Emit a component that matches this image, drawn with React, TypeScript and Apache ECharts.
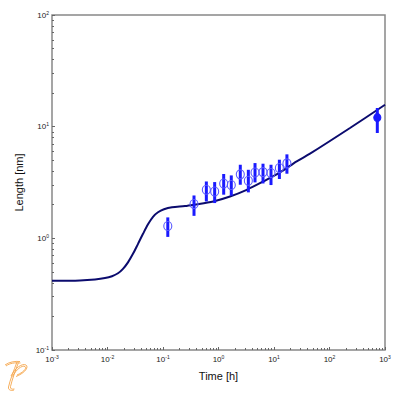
import React, { useEffect, useRef } from "react";
import * as echarts from "echarts";

// Model curve (Time [h], Length [nm])
const curveTime = [0.001, 0.00319, 0.005957, 0.009016, 0.01205, 0.01545, 0.01901, 0.02339, 0.02877, 0.03548, 0.04365, 0.0537, 0.06607, 0.08128, 0.1042, 0.1453, 0.2489, 0.3622, 0.8054, 1.611, 3.221, 6.412, 12.82, 25.65, 44.57, 233.9, 1000];
const curveLength = [0.416, 0.42, 0.4285, 0.4406, 0.458, 0.4865, 0.5328, 0.6092, 0.7262, 0.8929, 1.0975, 1.3354, 1.559, 1.711, 1.82, 1.897, 1.945, 2.0, 2.14, 2.37, 2.72, 3.23, 3.89, 4.89, 5.73, 9.73, 15.7];

// Experimental points with error bars
const expTime = [0.122, 0.362, 0.604, 0.853, 1.24, 1.7, 2.47, 3.45, 4.55, 6.34, 8.83, 12.5, 17.1, 727];
const expLength = [1.29, 2.03, 2.72, 2.63, 3.1, 3.0, 3.74, 3.28, 3.89, 3.92, 3.85, 4.26, 4.69, 12.05];
const expLow = [1.03, 1.59, 2.14, 2.07, 2.46, 2.41, 3.02, 2.58, 3.17, 3.1, 3.0, 3.4, 3.79, 8.78];
const expHigh = [1.54, 2.42, 3.23, 3.19, 3.77, 3.66, 4.56, 4.11, 4.72, 4.66, 4.56, 5.06, 5.65, 14.7];
const expFilled = [0, 0, 0, 0, 0, 0, 0, 0, 0, 0, 0, 0, 0, 1];

const xDecades = [-3, -2, -1, 0, 1, 2];
const yDecades = [-1, 0, 1];
const minorMultipliers = [2, 3, 4, 5, 6, 7, 8, 9];

const LOGO_D =
  "M5 13 C9 10 15 9 20 9.5 M6 14 C10 11 15 10.5 20.5 11 M17 10 C14 18 10 28 8.5 35 C8 38 11 39 14 38 M18.5 10.5 C15.5 18 12 28 10.5 34.5 C10 37 12 37.5 14.5 37 M11 24 C15 16 22 11 26 13 C29 15 25 21 16 24.5 M12.5 24.5 C16 17.5 22 13 25 14.5 C27 16 24 20 17 23";

export default function App() {
  const ref = useRef<HTMLDivElement>(null);
  useEffect(() => {
    if (!ref.current) return;
    try {
      echarts.graphic.registerShape("logo", echarts.graphic.extendPath(LOGO_D, {}));
    } catch (e) {}
    const chart = echarts.init(ref.current, null, { renderer: "svg" });
    const minorX: number[] = [];
    xDecades.forEach((d) => minorMultipliers.forEach((m) => minorX.push(m * Math.pow(10, d))));
    const minorY: number[] = [];
    yDecades.forEach((d) => minorMultipliers.forEach((m) => minorY.push(m * Math.pow(10, d))));
    const fmt = (v: number) => {
      const e = Math.round(Math.log10(v));
      return "{b|10}{e|" + e + "}";
    };
    const rich = {
      b: { fontSize: 8, color: "#222", fontFamily: "Liberation Sans" },
      e: { fontSize: 5, color: "#222", fontFamily: "Liberation Sans", padding: [0, 0, 5, 0] },
    };
    const pts = expTime.map((t, i) => [t, expLength[i], expLow[i], expHigh[i], expFilled[i]]);
    chart.setOption({
      animation: false,
      backgroundColor: "#fff",
      grid: {
        left: 52,
        top: 15,
        width: 333,
        height: 335,
        show: true,
        borderColor: "#888",
        borderWidth: 1.5,
        backgroundColor: "transparent",
      },
      xAxis: [
        {
          type: "log",
          logBase: 10,
          min: 0.001,
          max: 1000,
          name: "Time [h]",
          nameLocation: "middle",
          nameGap: 20,
          nameTextStyle: { fontSize: 11, color: "#111", fontFamily: "Liberation Sans" },
          axisLine: { show: false },
          axisTick: { show: true, inside: true, length: 3, lineStyle: { color: "#666" } },
          splitLine: { show: false },
          axisLabel: { formatter: fmt, rich, margin: 4 },
        },
        {
          type: "log",
          logBase: 10,
          min: 0.001,
          max: 1000,
          position: "bottom",
          axisLine: { show: false },
          axisLabel: { show: false },
          splitLine: { show: false },
          axisTick: { show: true, inside: true, length: 2, customValues: minorX, lineStyle: { color: "#666" } },
        },
      ],
      yAxis: [
        {
          type: "log",
          logBase: 10,
          min: 0.1,
          max: 100,
          name: "Length [nm]",
          nameLocation: "middle",
          nameGap: 17,
          nameTextStyle: { fontSize: 11, color: "#111", fontFamily: "Liberation Sans" },
          axisLine: { show: false },
          axisTick: { show: true, inside: true, length: 3, lineStyle: { color: "#666" } },
          splitLine: { show: false },
          axisLabel: { formatter: fmt, rich, margin: 3 },
        },
        {
          type: "log",
          logBase: 10,
          min: 0.1,
          max: 100,
          position: "left",
          axisLine: { show: false },
          axisLabel: { show: false },
          splitLine: { show: false },
          axisTick: { show: true, inside: true, length: 2, customValues: minorY, lineStyle: { color: "#666" } },
        },
      ],
      series: [
        {
          type: "line",
          data: curveTime.map((t, i) => [t, curveLength[i]]),
          smooth: 0.3,
          showSymbol: false,
          symbol: "none",
          lineStyle: { color: "#0b0b6e", width: 2 },
          z: 2,
        },
        {
          type: "custom",
          data: pts,
          encode: { x: 0, y: 1 },
          z: 3,
          renderItem: (params: any, api: any) => {
            const x = api.value(0);
            const p = api.coord([x, api.value(1)]);
            const pl = api.coord([x, api.value(2)]);
            const ph = api.coord([x, api.value(3)]);
            const filled = api.value(4) === 1;
            return {
              type: "group",
              children: [
                {
                  type: "line",
                  shape: { x1: p[0], y1: ph[1], x2: p[0], y2: pl[1] },
                  style: { stroke: "#1a1aff", lineWidth: 3 },
                },
                {
                  type: "ellipse",
                  shape: { cx: p[0], cy: p[1], rx: filled ? 3.5 : 4, ry: filled ? 4 : 4.5 },
                  style: {
                    fill: filled ? "#1a1aff" : "transparent",
                    stroke: filled ? "#1a1aff" : "#5a5aff",
                    lineWidth: 1.1,
                  },
                },
              ],
            };
          },
        },
      ],
      graphic: [
        {
          type: "logo",
          x: 0,
          y: 352,
          scaleX: 1,
          scaleY: 1,
          style: { fill: "none", stroke: "#f5a54a", lineWidth: 0.9 },
        },
      ],
    });
    return () => chart.dispose();
  }, []);
  return <div ref={ref} style={{ position: "fixed", left: 0, top: 0, width: 400, height: 396 }} />;
}
